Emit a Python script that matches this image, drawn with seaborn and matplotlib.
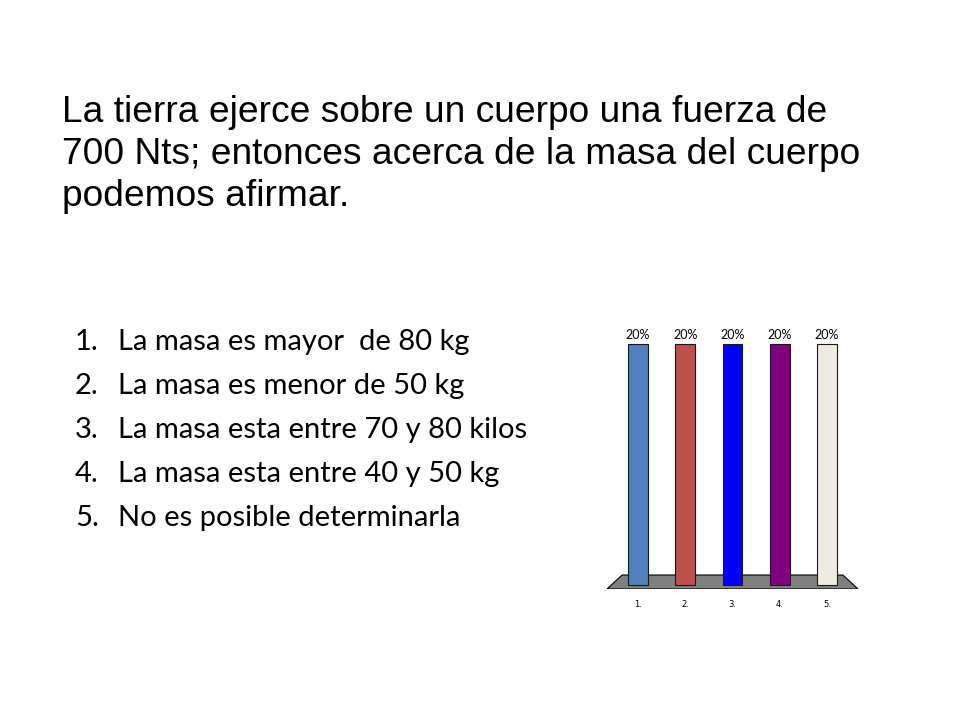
import matplotlib
matplotlib.use('Agg')
import matplotlib.pyplot as plt
import matplotlib.patches as mpatches
import seaborn as sns
import pandas as pd

# Data
titulo = ['La tierra ejerce sobre un cuerpo una fuerza de',
          '700 Nts; entonces acerca de la masa del cuerpo',
          'podemos afirmar.']
opciones = ['La masa es mayor  de 80 kg',
            'La masa es menor de 50 kg',
            'La masa esta entre 70 y 80 kilos',
            'La masa esta entre 40 y 50 kg',
            'No es posible determinarla']
categorias = ['1.', '2.', '3.', '4.', '5.']
porcentajes = [20, 20, 20, 20, 20]
colores = ['#4F81BD', '#C0504D', '#0000FF', '#7F007F', '#EEECE1']

df = pd.DataFrame({'opcion': categorias, 'pct': porcentajes})

sns.set_style('white')
plt.rcParams['text.color'] = 'black'
plt.rcParams['xtick.color'] = 'black'
fig = plt.figure(figsize=(9.6, 7.2), dpi=100)

# --- Title ---
for i, linea in enumerate(titulo):
    fig.text(62 / 960, 1 - (113 + 42 * i) / 720, linea, fontsize=26.7,
             family='Liberation Sans', va='center', ha='left')

# --- Numbered list ---
for i, txt in enumerate(opciones):
    y = 1 - (342 + 44 * i) / 720
    fig.text(75 / 960, y, f'{i + 1}.', fontsize=21, family='Lato',
             va='center', ha='left')
    fig.text(118 / 960, y, txt, fontsize=21, family='Lato',
             va='center', ha='left')

# --- Bar chart ---
ax = fig.add_axes([607 / 960, 1 - 589 / 720, 251 / 960, 269 / 720])
floor = mpatches.Polygon([[0, 0], [1, 0], [0.94, 0.052], [0.06, 0.052]],
                         closed=True, transform=ax.transAxes,
                         facecolor='#808080', edgecolor='black', lw=0.8,
                         zorder=0)
ax.add_patch(floor)

sns.barplot(data=df, x='opcion', y='pct', hue='opcion', palette=colores,
            saturation=1, legend=False, width=0.42, edgecolor='#1a1a1a',
            linewidth=0.8, ax=ax, zorder=2)

for cont in ax.containers:
    ax.bar_label(cont, labels=[f'{int(v)}%' for v in cont.datavalues],
                 padding=2, fontsize=9, family='Lato')

ax.set_xlim(-0.656, 4.656)
ax.set_ylim(-0.33, 22)
ax.set_xlabel('')
ax.set_ylabel('')
ax.set_yticks([])
ax.tick_params(axis='x', length=0, labelsize=6, pad=8)
for s in ax.spines.values():
    s.set_visible(False)
ax.patch.set_alpha(0)

fig.savefig('out.png', dpi=100)
